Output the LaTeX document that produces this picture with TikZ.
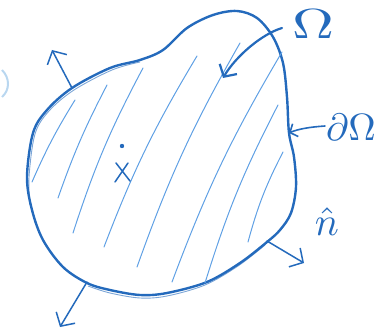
\documentclass[tikz,border=0pt]{standalone}
\usepackage{graphicx}
\usetikzlibrary{arrows.meta}
\definecolor{ink}{RGB}{36,106,188}
\definecolor{hatchc}{RGB}{95,160,228}
\definecolor{faintc}{RGB}{185,215,240}
\begin{document}
\begin{tikzpicture}[x=1pt,y=-1pt,
  outline/.style={draw=ink, line width=2.4pt, line join=round},
  hatchline/.style={draw=hatchc, line width=1pt, line cap=round},
  normalarrow/.style={draw=ink, line width=1.5pt, line cap=round,
    -{Straight Barb[length=10pt,width=22pt,line width=1.5pt]}},
  pointer/.style={draw=ink, line width=2.2pt, line cap=round,
    -{Straight Barb[length=9pt,width=20pt,line width=2.2pt]}},
  label/.style={text=ink, inner sep=0pt}]
\useasboundingbox (0,0) rectangle (383,331);

% domain outline
\draw[outline] plot[smooth cycle, tension=0.55] coordinates {
  (27,177) (33,133) (47,110) (72,88) (110,68) (140,60) (163,50)
  (187,28) (213,15) (237,11) (257,18) (273,37) (283,63) (287,97)
  (289,133) (294,157) (296,187) (291,213) (280,230) (267,242)
  (240,263) (207,282) (167,293) (140,295) (110,290) (87,283)
  (63,267) (43,240) (32,210)};
\draw[draw=ink, line width=0.9pt, opacity=0.6] plot[smooth, tension=0.55] coordinates {
  (30,205) (29,177) (35,134) (49,111) (74,90) (112,70) (140,62)};
\draw[draw=ink, line width=0.9pt, opacity=0.6] plot[smooth, tension=0.55] coordinates {
  (265,245) (238,266) (205,285) (167,296) (140,298) (110,293) (88,286)};

% hatching
\draw[hatchline] (75,100) to[bend right=4] (32,182);
\draw[hatchline] (107,85) to[bend right=4] (58,198);
\draw[hatchline] (143,68) to[bend right=5] (73,233);
\draw[hatchline] (197,56) to[bend right=5] (104,247);
\draw[hatchline] (240,43) to[bend right=5] (137,267);
\draw[hatchline] (282,52) to[bend right=5] (172,282);
\draw[hatchline] (278,105) to[bend right=5] (205,283);
\draw[hatchline] (283,152) to[bend right=6] (248,242);

% interior point and cross
\fill[ink] (122,146) circle (2.2pt);
\coordinate (xa) at (116,163); \coordinate (xb) at (130,181);
\coordinate (xc) at (128,163); \coordinate (xd) at (115,182);
\draw[draw=ink, line width=1.5pt, line cap=round] (xa) -- (xb) (xc) -- (xd);

% outward normals
\coordinate (b1) at (72,88);
\coordinate (t1) at (52,50);
\coordinate (b2) at (87,282);
\coordinate (t2) at (60,327);
\coordinate (b3) at (267,241);
\coordinate (t3) at (304,263);
\draw[normalarrow] (b1) -- (t1);
\draw[normalarrow] (b2) -- (t2);
\draw[normalarrow] (b3) -- (t3);

% labels
\node[label] (om) at (313,24) {\scalebox{5.8}[4.2]{$\Omega$}};
\node[label] (dom) at (351,127) {\scalebox{3.8}{$\partial\Omega$}};
\node[label] (nhat) at (327,222) {\scalebox{4}{$\hat{n}$}};

% pointers
\coordinate (omtip) at (223,78);
\coordinate (omstart) at (282,28);
\draw[pointer] (omstart) .. controls (262,34) and (236,56) .. (omtip);
\coordinate (dstart) at (325,126);
\coordinate (dtip) at (289,133);
\draw[draw=ink, line width=1.6pt, line cap=round,
  -{Straight Barb[length=6pt,width=14pt,line width=1.6pt]}] (dstart) .. controls (310,127) and (298,129) .. (dtip);

% faint edge mark
\draw[draw=faintc, line width=2pt] (2,70) .. controls (10,78) and (10,90) .. (2,97);
\end{tikzpicture}
\end{document}
